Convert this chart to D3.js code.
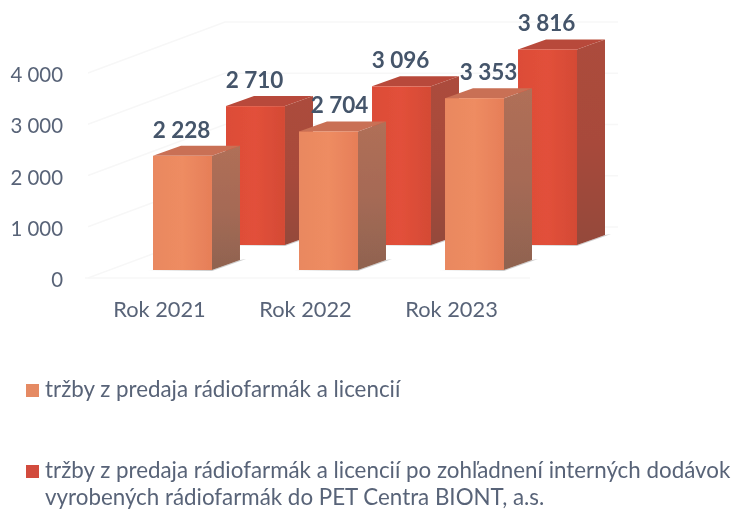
<!DOCTYPE html>
<html>
<head>
<meta charset="utf-8">
<script src="https://cdn.jsdelivr.net/npm/d3@7"></script>
<style>
    html, body { margin: 0; padding: 0; background: #fff; overflow: hidden; }
    text { font-family: Lato, sans-serif; }
</style>
</head>
<body>
<div id="chart"></div>
<script>
const categories = ["Rok 2021", "Rok 2022", "Rok 2023"];
const revenue = [2228, 2704, 3353];
const revenueAdjusted = [2710, 3096, 3816];
const yTicks = [0, 1000, 2000, 3000, 4000];
const legendOne = ["tržby z predaja rádiofarmák a licencií"];
const legendTwo = [
    "tržby z predaja rádiofarmák a licencií po zohľadnení interných dodávok",
    "vyrobených rádiofarmák do PET Centra BIONT, a.s."
];

const width = 732,
    height = 511,
    depthX = 28,        // side face of a bar
    depthY = 10,
    rowX = 73,          // second row sits behind the first
    rowY = 25;

const svg = d3.select("#chart")
    .append("svg")
    .attr("width", width)
    .attr("height", height)
    .attr("viewBox", [0, 0, width, height])
    .style("display", "block");

const fmt = v => d3.format(",")(v).replace(/,/g, " ");

const x = d3.scaleBand()
    .domain(categories)
    .range([153, 504])
    .paddingInner(0.596);

const y = d3.scaleLinear()
    .domain([0, 4000])
    .range([270, 65]);

// Gradients ------------------------------------------------------------
const defs = svg.append("defs");

function gradient(id, stops, horizontal) {
    const g = defs.append("linearGradient")
        .attr("id", id)
        .attr("x1", 0).attr("y1", 0)
        .attr("x2", horizontal ? 1 : 0).attr("y2", horizontal ? 0 : 1);
    stops.forEach((c, i) => g.append("stop")
        .attr("offset", i / (stops.length - 1))
        .attr("stop-color", c));
}

gradient("orangeFront", ["#e98860", "#ee8c62", "#e67e58"], true);
gradient("orangeSide", ["#b06f58", "#a66a55", "#8f6350"]);
gradient("redFront", ["#dc4c38", "#e2503a", "#d44a35"], true);
gradient("redSide", ["#ac4c3c", "#a84a3a", "#94483a"]);

defs.append("filter")
    .attr("id", "soft")
    .append("feGaussianBlur")
    .attr("stdDeviation", 0.6);

const chart = svg.append("g").attr("filter", "url(#soft)");

// Gridlines on the walls ----------------------------------------------
const wallBackX = 225;
const grid = chart.append("g")
    .attr("fill", "none")
    .attr("stroke", "#f7f7f7")
    .attr("stroke-width", 1.5);

grid.selectAll("path")
    .data(yTicks)
    .join("path")
    .attr("d", d => d3.line()([
        [88, y(d) + 8],
        [wallBackX, y(d) - 43],
        [618, y(d) - 43]
    ]));

grid.append("path")
    .attr("d", d3.line()([[85, y(0) + 8], [530, y(0) + 8]]));

// Axes -----------------------------------------------------------------
const yAxis = chart.append("g")
    .attr("transform", "translate(66,10)")
    .call(d3.axisLeft(y)
        .tickValues(yTicks)
        .tickFormat(fmt)
        .tickSize(0));

const xAxis = chart.append("g")
    .attr("transform", "translate(-23,299)")
    .call(d3.axisBottom(x).tickSize(0));

yAxis.select(".domain").remove();
xAxis.select(".domain").remove();
yAxis.selectAll("text").attr("font-size", 20.4).attr("fill", "#596478");
xAxis.selectAll("text").attr("font-size", 21.8).attr("fill", "#596478");

// Bars -----------------------------------------------------------------
function drawRow(values, dx, dy, front, side, top) {
    const rows = categories.map((c, i) => ({
        x0: x(c) + dx,
        x1: x(c) + dx + x.bandwidth(),
        y0: y(0) + dy,
        y1: y(values[i]) + dy
    }));

    const g = chart.append("g");

    // floor shadow
    g.selectAll(".shadow")
        .data(rows)
        .join("path")
        .attr("class", "shadow")
        .attr("fill", "#9a9a9a")
        .attr("opacity", 0.5)
        .attr("d", d => d3.line()([
            [d.x0 - 6, d.y0 + 1],
            [d.x1, d.y0 + 1],
            [d.x1 + depthX + 6, d.y0 - depthY - 1],
            [d.x1 + depthX, d.y0 - depthY],
            [d.x1, d.y0]
        ]) + "Z");

    g.selectAll(".side")
        .data(rows)
        .join("path")
        .attr("class", "side")
        .attr("fill", `url(#${side})`)
        .attr("d", d => d3.line()([
            [d.x1, d.y1],
            [d.x1 + depthX, d.y1 - depthY],
            [d.x1 + depthX, d.y0 - depthY],
            [d.x1, d.y0]
        ]) + "Z");

    g.selectAll(".top")
        .data(rows)
        .join("path")
        .attr("class", "top")
        .attr("fill", top)
        .attr("d", d => d3.line()([
            [d.x0, d.y1],
            [d.x0 + depthX, d.y1 - depthY],
            [d.x1 + depthX, d.y1 - depthY],
            [d.x1, d.y1]
        ]) + "Z");

    g.selectAll(".front")
        .data(rows)
        .join("rect")
        .attr("class", "front")
        .attr("fill", `url(#${front})`)
        .attr("x", d => d.x0)
        .attr("y", d => d.y1)
        .attr("width", x.bandwidth())
        .attr("height", d => d.y0 - d.y1);
}

drawRow(revenueAdjusted, rowX, -rowY, "redFront", "redSide", "#b84a3a");
drawRow(revenue, 0, 0, "orangeFront", "orangeSide", "#c96f54");

// Value labels -----------------------------------------------------------
const labelShift = [-1, 11, 14];     // front row labels slide off the bar behind

chart.append("g")
    .selectAll("text")
    .data(revenueAdjusted)
    .join("text")
    .attr("text-anchor", "middle")
    .attr("x", (d, i) => x(categories[i]) + x.bandwidth() / 2 + rowX - 1)
    .attr("y", d => y(d) - rowY - 18)
    .attr("font-size", 22.5)
    .attr("font-weight", 700)
    .attr("fill", "#44546a")
    .text(fmt);

chart.append("g")
    .selectAll("text")
    .data(revenue)
    .join("text")
    .attr("text-anchor", "middle")
    .attr("x", (d, i) => x(categories[i]) + x.bandwidth() / 2 + labelShift[i])
    .attr("y", d => y(d) - 18)
    .attr("font-size", 22.5)
    .attr("font-weight", 700)
    .attr("fill", "#44546a")
    .text(fmt);

// Legend ----------------------------------------------------------------
const legend = chart.append("g")
    .attr("font-size", 22.35)
    .attr("fill", "#596478");

function legendEntry(lines, top, color) {
    legend.append("rect")
        .attr("x", 26)
        .attr("y", top - 13)
        .attr("width", 13)
        .attr("height", 13)
        .attr("fill", color);
    lines.forEach((line, i) => legend.append("text")
        .attr("x", 45)
        .attr("y", top + i * 27)
        .text(line));
}

legendEntry(legendOne, 397, "#e58a63");
legendEntry(legendTwo, 478, "#d24c3c");
</script>
</body>
</html>
